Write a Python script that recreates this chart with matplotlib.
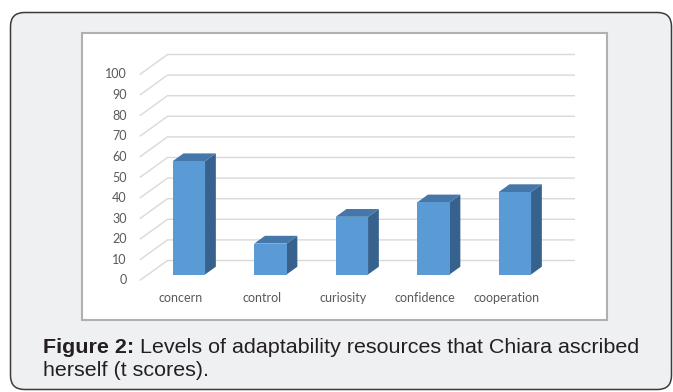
import matplotlib
matplotlib.use('Agg')
import matplotlib.pyplot as plt
from matplotlib.patches import Polygon, Rectangle, FancyBboxPatch

# ---------------- data ----------------
categories = ['concern', 'control', 'curiosity', 'confidence', 'cooperation']
values = [55, 15, 28, 35, 40]
yticks = list(range(0, 101, 10))
caption_bold = 'Figure 2:'
caption_rest = ' Levels of adaptability resources that Chiara ascribed'
caption_line2 = 'herself (t scores).'

# ---------------- figure ----------------
W, H = 673, 392
DPI = 100
fig = plt.figure(figsize=(W / DPI, H / DPI), dpi=DPI)
fig.patch.set_facecolor('white')

bg = fig.add_axes([0, 0, 1, 1])
bg.set_xlim(0, W)
bg.set_ylim(H, 0)
bg.axis('off')
bg.add_patch(FancyBboxPatch((10.5, 12.5), 661, 377,
                            boxstyle='round,pad=0,rounding_size=14',
                            fc='#eff0f2', ec='#3c3c3c', lw=1.1))
bg.add_patch(Rectangle((82, 33), 524.5, 287, fc='white', ec='#b0b0b0', lw=1.5))

# chart axes (front plane of bars: x = category index, y = value)
PX0, SX, PY0, SY = 188.85, 81.5, 274.5, 2.06
xlim = (-1.0, 5.3)
ylim = (-16, 115)
left_px = PX0 + SX * xlim[0]
right_px = PX0 + SX * xlim[1]
top_px = PY0 - SY * ylim[1]
bot_px = PY0 - SY * ylim[0]
ax = fig.add_axes([left_px / W, 1 - bot_px / H,
                   (right_px - left_px) / W, (bot_px - top_px) / H])
ax.set_xlim(*xlim)
ax.set_ylim(*ylim)
ax.axis('off')
ax.patch.set_alpha(0)

DX = 27.7 / SX   # full depth offset, x (category units)
DY = 20.0 / SY   # full depth offset, y (value units)
f0 = 0.30        # bar front position within depth
fb = 0.39        # bar depth fraction
n = len(categories)

tick_font = dict(family=['Lato', 'DejaVu Sans'], size=9, color='#595959')

# walls / gridlines
for v in yticks:
    x0 = -0.5 - f0 * DX
    y0 = v - f0 * DY
    x1 = -0.5 + (1 - f0) * DX
    y1 = v + (1 - f0) * DY
    x2 = n - 0.5 + (1 - f0) * DX
    ax.plot([x0, x1, x2], [y0, y1, y1], color='#d9d9d9', lw=1.0, zorder=1,
            solid_joinstyle='miter', solid_capstyle='butt')
    ax.text(x0 - 13.3 / SX, y0, str(v), ha='right', va='center', **tick_font)

# bars
w = 0.3975
bx, by = fb * DX, fb * DY
for i, v in enumerate(values):
    xl, xr = i - w / 2, i + w / 2
    ax.add_patch(Polygon([(xr, 0), (xr, v), (xr + bx, v + by), (xr + bx, by)],
                         closed=True, fc='#37628d', ec='none', zorder=3))
    ax.add_patch(Polygon([(xl, v), (xr, v), (xr + bx, v + by), (xl + bx, v + by)],
                         closed=True, fc='#4677ab', ec='none', zorder=3))
    ax.add_patch(Rectangle((xl, 0), w, v, fc='#5b9bd5', ec='none', zorder=4))
    ax.text(i - f0 * DX, -f0 * DY - 8.64, categories[i], ha='center', va='center',
            **tick_font)

# caption
cap_font = dict(family=['Liberation Sans', 'DejaVu Sans'], color='#231f20')
fs = 14
x_start = 43
t1 = fig.text(x_start / W, 1 - 353 / H, caption_bold, fontweight='bold',
              va='baseline', ha='left', size=fs, **cap_font)
t2 = fig.text(0, 1 - 353 / H, caption_rest, va='baseline', ha='left', size=fs, **cap_font)
t3 = fig.text(x_start / W, 1 - 376 / H, caption_line2, va='baseline', ha='left',
              size=fs, **cap_font)
fig.canvas.draw()
r = fig.canvas.get_renderer()
total = t1.get_window_extent(r).width + t2.get_window_extent(r).width
fs2 = fs * 599.0 / total
for t in (t1, t2, t3):
    t.set_fontsize(fs2)
fig.canvas.draw()
wb = t1.get_window_extent(r).width
t2.set_x((x_start + wb) / W)

fig.savefig('out.png', dpi=DPI, facecolor='white')
